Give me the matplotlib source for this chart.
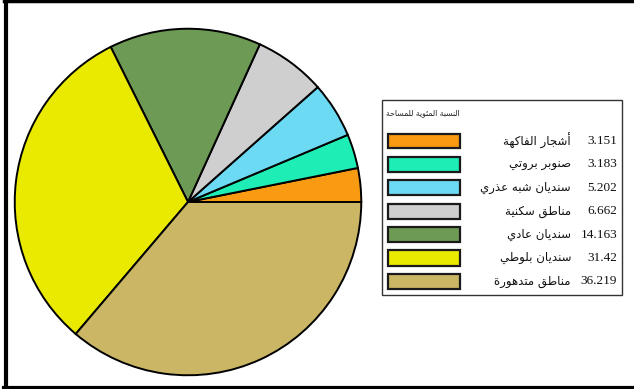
import matplotlib
matplotlib.use("Agg")
import matplotlib.pyplot as plt
from matplotlib.patches import Rectangle
from matplotlib.lines import Line2D

# ---- data -------------------------------------------------------------
categories = ["أشجار الفاكهة", "صنوبر بروتي", "سنديان شبه عذري", "مناطق سكنية",
              "سنديان عادي", "سنديان بلوطي", "مناطق متدهورة"]
values = [3.151, 3.183, 5.202, 6.662, 14.163, 31.42, 36.219]
value_labels = ["3.151", "3.183", "5.202", "6.662", "14.163", "31.42", "36.219"]
legend_title = "النسبة المئوية للمساحة"
colors = ["#F89A12", "#1EEDB6", "#6DDAF4", "#D0CFCF", "#6D9A55", "#EAEA00", "#CAB664"]

# ---- minimal Arabic shaping (contextual forms + visual order) ---------
# iso, fin, ini, med  (two-form letters do not join to the following letter)
FORMS = {
    "ء": (0xFE80,), "آ": (0xFE81, 0xFE82), "أ": (0xFE83, 0xFE84),
    "ؤ": (0xFE85, 0xFE86), "إ": (0xFE87, 0xFE88),
    "ئ": (0xFE89, 0xFE8A, 0xFE8B, 0xFE8C), "ا": (0xFE8D, 0xFE8E),
    "ب": (0xFE8F, 0xFE90, 0xFE91, 0xFE92), "ة": (0xFE93, 0xFE94),
    "ت": (0xFE95, 0xFE96, 0xFE97, 0xFE98), "ث": (0xFE99, 0xFE9A, 0xFE9B, 0xFE9C),
    "ج": (0xFE9D, 0xFE9E, 0xFE9F, 0xFEA0), "ح": (0xFEA1, 0xFEA2, 0xFEA3, 0xFEA4),
    "خ": (0xFEA5, 0xFEA6, 0xFEA7, 0xFEA8), "د": (0xFEA9, 0xFEAA),
    "ذ": (0xFEAB, 0xFEAC), "ر": (0xFEAD, 0xFEAE), "ز": (0xFEAF, 0xFEB0),
    "س": (0xFEB1, 0xFEB2, 0xFEB3, 0xFEB4), "ش": (0xFEB5, 0xFEB6, 0xFEB7, 0xFEB8),
    "ص": (0xFEB9, 0xFEBA, 0xFEBB, 0xFEBC), "ض": (0xFEBD, 0xFEBE, 0xFEBF, 0xFEC0),
    "ط": (0xFEC1, 0xFEC2, 0xFEC3, 0xFEC4), "ظ": (0xFEC5, 0xFEC6, 0xFEC7, 0xFEC8),
    "ع": (0xFEC9, 0xFECA, 0xFECB, 0xFECC), "غ": (0xFECD, 0xFECE, 0xFECF, 0xFED0),
    "ف": (0xFED1, 0xFED2, 0xFED3, 0xFED4), "ق": (0xFED5, 0xFED6, 0xFED7, 0xFED8),
    "ك": (0xFED9, 0xFEDA, 0xFEDB, 0xFEDC), "ل": (0xFEDD, 0xFEDE, 0xFEDF, 0xFEE0),
    "م": (0xFEE1, 0xFEE2, 0xFEE3, 0xFEE4), "ن": (0xFEE5, 0xFEE6, 0xFEE7, 0xFEE8),
    "ه": (0xFEE9, 0xFEEA, 0xFEEB, 0xFEEC), "و": (0xFEED, 0xFEEE),
    "ى": (0xFEEF, 0xFEF0), "ي": (0xFEF1, 0xFEF2, 0xFEF3, 0xFEF4),
}
LAM_ALEF = {"ا": (0xFEFB, 0xFEFC), "أ": (0xFEF7, 0xFEF8),
            "آ": (0xFEF5, 0xFEF6), "إ": (0xFEF9, 0xFEFA)}


def joins_forward(ch):
    return ch in FORMS and len(FORMS[ch]) == 4


def shape(text):
    out = []
    i = 0
    n = len(text)
    while i < n:
        ch = text[i]
        prev = text[i - 1] if i > 0 else ""
        connect_prev = joins_forward(prev)
        if ch == "ل" and i + 1 < n and text[i + 1] in LAM_ALEF:
            iso, fin = LAM_ALEF[text[i + 1]]
            out.append(chr(fin if connect_prev else iso))
            i += 2
            continue
        if ch not in FORMS:
            out.append(ch)
            i += 1
            continue
        forms = FORMS[ch]
        nxt = text[i + 1] if i + 1 < n else ""
        connect_next = len(forms) == 4 and nxt in FORMS
        if len(forms) == 1:
            code = forms[0]
        elif connect_prev and connect_next:
            code = forms[3]
        elif connect_next:
            code = forms[2]
        elif connect_prev:
            code = forms[1]
        else:
            code = forms[0]
        out.append(chr(code))
        i += 1
    return "".join(reversed(out))


# ---- figure -----------------------------------------------------------
W, H = 634, 389
fig = plt.figure(figsize=(W / 100, H / 100), dpi=100, facecolor="white")


def fx(px):
    return px / W


def fy(py):
    return 1 - py / H


# pie: circle centred at (188, 202) px, radius 175 px
cx, cy, r = 188, 202, 175
ax = fig.add_axes([fx(cx - r), fy(cy + r), 2 * r / W, 2 * r / H])
ax.pie(values, colors=colors, startangle=0, counterclock=True, radius=1,
       wedgeprops=dict(edgecolor="black", linewidth=1.4))
ax.set_xlim(-1.01, 1.01)
ax.set_ylim(-1.01, 1.01)
ax.set_aspect("equal")
ax.axis("off")

# legend box
box_l, box_r, box_t, box_b = 382, 622, 100, 295
fig.patches.append(Rectangle((fx(box_l), fy(box_b)), fx(box_r) - fx(box_l),
                             fy(box_t) - fy(box_b), transform=fig.transFigure,
                             facecolor="white", edgecolor="#333333", linewidth=1.0,
                             zorder=1))
fig.text(fx(386), fy(113), shape(legend_title), ha="left", va="center",
         fontsize=5.6, family=["DejaVu Sans"], color="#222222")

row_y0, row_dy = 141, 23.4
for k, (cat, lab, col) in enumerate(zip(categories, value_labels, colors)):
    yc = row_y0 + k * row_dy
    fig.patches.append(Rectangle((fx(388), fy(yc + 7.5)), fx(460) - fx(388),
                                 fy(yc - 7.5) - fy(yc + 7.5), transform=fig.transFigure,
                                 facecolor=col, edgecolor="#1a1a1a", linewidth=1.6,
                                 zorder=2))
    fig.text(fx(617), fy(yc), lab, ha="right", va="center", fontsize=9.5,
             family=["Liberation Serif"], color="#111111")
    fig.text(fx(571), fy(yc), shape(cat), ha="right", va="center", fontsize=8.5,
             family=["DejaVu Sans"], color="#111111")

# outer frame (left, top, bottom)
frame = [((5.5, 5.5), (0, H), 3.0), ((4, W), (1.0, 1.0), 2.5), ((4, W), (387.5, 387.5), 3.0)]
for xs, ys, lw in frame:
    fig.lines.append(Line2D([fx(x) for x in xs], [fy(y) for y in ys],
                            transform=fig.transFigure, color="black", linewidth=lw))

fig.savefig("out.png", dpi=100, facecolor="white")
